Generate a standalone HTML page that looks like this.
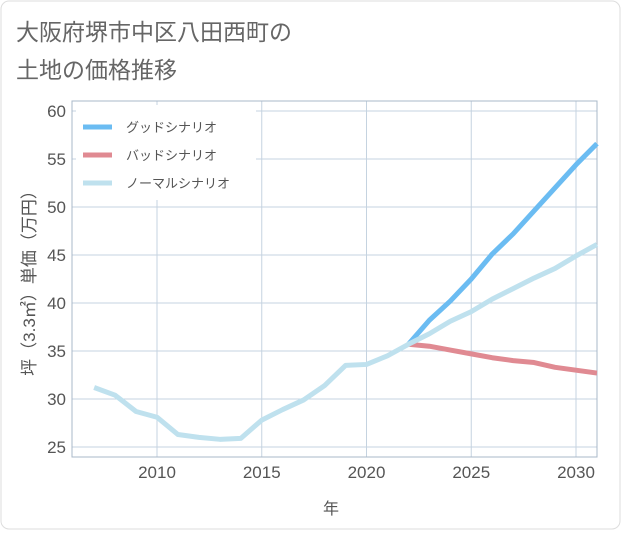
<!DOCTYPE html>
<html><head><meta charset="utf-8"><style>
body{margin:0;background:#fff;}
svg{font-family:"Liberation Sans","Noto Sans CJK JP",sans-serif;}
</style></head><body>
<svg width="621" height="530" viewBox="0 0 621 530">
<rect x="1" y="1" width="619" height="528" rx="8" fill="#fff" stroke="#ddd"/>
<text x="16" y="40" font-size="23" fill="#666">大阪府堺市中区八田西町の</text>
<text x="16" y="78" font-size="23" fill="#666">土地の価格推移</text>
<g id="grid"></g>
<rect x="72" y="101" width="525" height="356" fill="none" stroke="#aab8c8"/>
<rect x="76" y="105" width="180" height="95" fill="#fff"/>
<g id="series"></g>
<g>
<line x1="83" y1="127" x2="112" y2="127" stroke="#6bbcf2" stroke-width="5"/>
<text x="126" y="132" font-size="13" fill="#555">グッドシナリオ</text>
<line x1="83" y1="155" x2="112" y2="155" stroke="#e08a92" stroke-width="5"/>
<text x="126" y="160" font-size="13" fill="#555">バッドシナリオ</text>
<line x1="83" y1="183" x2="112" y2="183" stroke="#bfe1ee" stroke-width="5"/>
<text x="126" y="188" font-size="13" fill="#555">ノーマルシナリオ</text>
</g>
<text x="331" y="514" font-size="16" fill="#555" text-anchor="middle">年</text>
<text transform="translate(35,279) rotate(-90)" font-size="17" fill="#555" text-anchor="middle">坪（3.3㎡）単価（万円）</text>
</svg>
<script>
const yTicks=[25,30,35,40,45,50,55,60];
const xTicks=[2010,2015,2020,2025,2030];
const normalYears=[2007,2008,2009,2010,2011,2012,2013,2014,2015,2016,2017,2018,2019,2020,2021,2022,2023,2024,2025,2026,2027,2028,2029,2030,2031];
const normalVals=[31.2,30.4,28.7,28.1,26.3,26.0,25.8,25.9,27.8,28.9,29.9,31.4,33.5,33.6,34.5,35.7,36.8,38.1,39.1,40.4,41.5,42.6,43.6,44.9,46.1];
const fcYears=[2022,2023,2024,2025,2026,2027,2028,2029,2030,2031];
const goodVals=[35.7,38.2,40.2,42.5,45.1,47.2,49.6,52.0,54.4,56.6];
const badVals=[35.7,35.5,35.1,34.7,34.3,34.0,33.8,33.3,33.0,32.7];
const NS='http://www.w3.org/2000/svg';
const xs=y=>157+(y-2010)*20.95;
const ys=v=>447-(v-25)*9.6;
const grid=document.getElementById('grid');
function mk(t,a,p){const e=document.createElementNS(NS,t);for(const k in a)e.setAttribute(k,a[k]);p.appendChild(e);return e;}
yTicks.forEach(v=>{
 const l=mk('line',{x1:72,x2:597,y1:ys(v),y2:ys(v),stroke:'#c5d3e0','stroke-width':1},grid);
 
 
 const t=mk('text',{x:66,y:ys(v)+6,'font-size':17,fill:'#555','text-anchor':'end'},grid);
 t.textContent=v;
 
 
});
xTicks.forEach(v=>{
 const l=mk('line',{x1:xs(v),x2:xs(v),y1:101,y2:457,stroke:'#c5d3e0','stroke-width':1},grid);
 
 
 const t=mk('text',{x:xs(v),y:478,'font-size':17,fill:'#555','text-anchor':'middle'},grid);
 t.textContent=v;
 
 
});
const sg=document.getElementById('series');
function line(yrs,vals,c,name){
 const p=mk('polyline',{points:yrs.map((y,i)=>xs(y)+','+ys(vals[i])).join(' '),fill:'none',stroke:c,'stroke-width':5,'stroke-linejoin':'round'},sg);
 
 
}
line(fcYears,goodVals,'#6bbcf2','good-scenario-line');
line(fcYears,badVals,'#e08a92','bad-scenario-line');
line(normalYears,normalVals,'#bfe1ee','normal-scenario-line');
</script>
</body></html>
